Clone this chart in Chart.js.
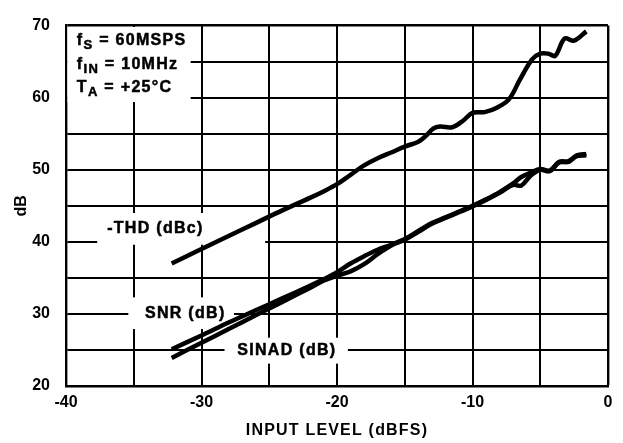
<!DOCTYPE html>
<html>
<head>
<meta charset="utf-8">
<script src="https://cdn.jsdelivr.net/npm/chart.js@4.4.1/dist/chart.umd.min.js"></script>
<style>
  html, body { margin: 0; padding: 0; background: #fff; }
  #wadah { width: 623px; height: 443px; }
</style>
</head>
<body>
<div id="wadah"><canvas id="grafik"></canvas></div>
<script>
// data
const labelX = [-40, -30, -20, -10, 0];
const labelY = [20, 30, 40, 50, 60, 70];

const thdX = [-32.2, -30, -28, -26, -24, -22, -21, -20, -19, -18, -17, -16, -15, -14, -13.5, -12.9, -12.4, -11.5, -10.7, -10.0, -9.1, -8.2, -7.3, -6.5, -5.6, -5.0, -4.4, -3.9, -3.2, -2.5, -1.6];
const thdY = [37.0, 39.0, 40.8, 42.6, 44.4, 46.1, 47.0, 48.0, 49.3, 50.6, 51.6, 52.4, 53.2, 53.9, 54.6, 55.7, 56.0, 55.9, 56.8, 57.9, 58.0, 58.6, 59.8, 62.5, 65.3, 66.1, 66.1, 65.8, 68.2, 67.9, 69.2];

const snrX = [-32.2, -30, -28, -26, -24, -22, -21, -20, -19, -18, -17, -16, -15, -14, -13, -12, -11, -10, -9, -8, -7, -6.4, -5.7, -5.0, -4.3, -3.6, -2.9, -2.3, -1.6];
const snrY = [25.1, 27.0, 28.8, 30.5, 32.2, 33.9, 34.8, 35.8, 37.0, 38.0, 38.9, 39.6, 40.4, 41.5, 42.6, 43.4, 44.2, 45.0, 45.9, 46.9, 48.1, 49.0, 49.6, 50.1, 49.9, 51.1, 51.2, 52.0, 52.2];

const sinadX = [-32.2, -30, -28, -26, -24, -22, -21, -20, -19, -18, -17, -16, -15, -14, -13, -12, -11, -10, -9, -8, -7, -6.4, -5.7, -5.0, -4.3, -3.6, -2.9, -2.3, -1.6];
const sinadY = [23.9, 26.0, 27.9, 29.8, 31.7, 33.6, 34.6, 35.3, 35.9, 36.9, 38.3, 39.5, 40.3, 41.4, 42.5, 43.3, 44.1, 44.9, 45.8, 46.8, 47.9, 47.8, 49.2, 50.0, 49.8, 51.0, 51.1, 51.9, 52.0];

// teks keterangan (posisi dalam satuan data)
const kondisi = [
  ["f", "S", " = 60MSPS"],
  ["f", "IN", " = 10MHz"],
  ["T", "A", " = +25°C"]
];
const kondisiX = -39.2;
const kondisiY = [67.25, 63.95, 60.85];
const kotakKondisi = [-40, -30.8, 70, 59.4];

const labelKurva = [
  { teks: "-THD (dBc)", x: -33.4, y: 41.8, kotak: [-37.7, -25.3, 44.0, 39.6] },
  { teks: "SNR (dB)", x: -31.2, y: 30.1, kotak: [-35.4, -27.6, 32.3, 27.9] },
  { teks: "SINAD (dB)", x: -23.7, y: 24.85, kotak: [-28.3, -19.2, 26.7, 23.1] }
];

const FONT = "'Liberation Sans', Arial, Helvetica, sans-serif";

function gabung(xs, ys) {
  return xs.map((x, i) => ({ x: x, y: ys[i] }));
}

function kurva(label, xs, ys) {
  return {
    label: label,
    data: gabung(xs, ys),
    borderColor: "#000",
    backgroundColor: "#000",
    borderWidth: 4.5,
    pointRadius: 0,
    fill: false,
    tension: 0.35
  };
}

// kotak putih + teks di atas grid, di bawah kurva
const pluginKeterangan = {
  id: "keterangan",
  afterLayout(chart) {
    const sx = chart.scales.x;
    if (sx && !sx._spasiOk) {
      const asli = sx.drawTitle.bind(sx);
      sx.drawTitle = function () {
        const c = chart.ctx;
        c.save();
        c.letterSpacing = "1.2px";
        asli();
        c.restore();
      };
      sx._spasiOk = true;
    }
  },
  beforeDatasetsDraw(chart) {
    const c = chart.ctx;
    const sx = chart.scales.x, sy = chart.scales.y;
    const area = chart.chartArea;
    const px = v => sx.getPixelForValue(v);
    const py = v => sy.getPixelForValue(v);

    function kotakPutih(k) {
      let x0 = Math.max(px(k[0]), area.left + 1.4);
      let y0 = Math.max(py(k[2]), area.top + 1.4);
      let x1 = px(k[1]);
      let y1 = py(k[3]);
      c.fillStyle = "#fff";
      c.fillRect(x0, y0, x1 - x0, y1 - y0);
    }

    function tulis(teks, x, y) {
      c.fillText(teks, x, y);
      c.strokeText(teks, x, y);
    }

    c.save();
    kotakPutih(kotakKondisi);
    labelKurva.forEach(l => kotakPutih(l.kotak));

    c.fillStyle = "#000";
    c.strokeStyle = "#000";
    c.lineWidth = 0.5;
    c.letterSpacing = "1.3px";
    c.textBaseline = "middle";
    c.textAlign = "center";
    c.font = "bold 16px " + FONT;
    labelKurva.forEach(l => tulis(l.teks, px(l.x), py(l.y)));

    c.textAlign = "left";
    c.textBaseline = "alphabetic";
    kondisi.forEach((baris, i) => {
      let x = px(kondisiX);
      const y = py(kondisiY[i]);
      c.font = "bold 16px " + FONT;
      tulis(baris[0], x, y);
      x += c.measureText(baris[0]).width;
      c.font = "bold 13px " + FONT;
      tulis(baris[1], x, y + 4);
      x += c.measureText(baris[1]).width;
      c.font = "bold 16px " + FONT;
      tulis(baris[2], x, y);
    });
    c.restore();
  }
};

const ctx = document.getElementById("grafik").getContext("2d");

new Chart(ctx, {
  type: "line",
  data: {
    datasets: [
      kurva("-THD (dBc)", thdX, thdY),
      kurva("SNR (dB)", snrX, snrY),
      kurva("SINAD (dB)", sinadX, sinadY)
    ]
  },
  options: {
    responsive: true,
    maintainAspectRatio: false,
    animation: false,
    layout: { padding: { top: 19, right: 15, left: 0, bottom: 0 } },
    plugins: {
      legend: { display: false },
      tooltip: { enabled: false }
    },
    scales: {
      x: {
        type: "linear",
        min: -40,
        max: 0,
        afterFit: s => { s.height = 57; },
        grid: {
          color: "#000",
          lineWidth: c => (c.tick && c.tick.value === 0 ? 2.4 : 2),
          drawTicks: false
        },
        border: { display: true, color: "#000", width: 2.4 },
        ticks: {
          stepSize: 5,
          autoSkip: false,
          maxRotation: 0,
          padding: 7,
          color: "#000",
          font: { family: FONT, weight: "bold", size: 16 },
          callback: v => (labelX.includes(v) ? String(v) : "")
        },
        title: {
          display: true,
          text: "INPUT LEVEL (dBFS)",
          color: "#000",
          font: { family: FONT, weight: "bold", size: 16 },
          padding: { top: 0, bottom: 3 }
        }
      },
      y: {
        min: 20,
        max: 70,
        afterFit: s => { s.width = 66; },
        grid: {
          color: "#000",
          lineWidth: c => (c.tick && c.tick.value === 70 ? 2.4 : 2),
          drawTicks: false
        },
        border: { display: true, color: "#000", width: 2.4 },
        ticks: {
          stepSize: 5,
          autoSkip: false,
          padding: 16,
          color: "#000",
          font: { family: FONT, weight: "bold", size: 16 },
          callback: v => (labelY.includes(v) ? String(v) : "")
        },
        title: {
          display: true,
          text: "dB",
          color: "#000",
          font: { family: FONT, weight: "bold", size: 16 },
          padding: { top: 12, bottom: 0 }
        }
      }
    }
  },
  plugins: [pluginKeterangan]
});
</script>
</body>
</html>
